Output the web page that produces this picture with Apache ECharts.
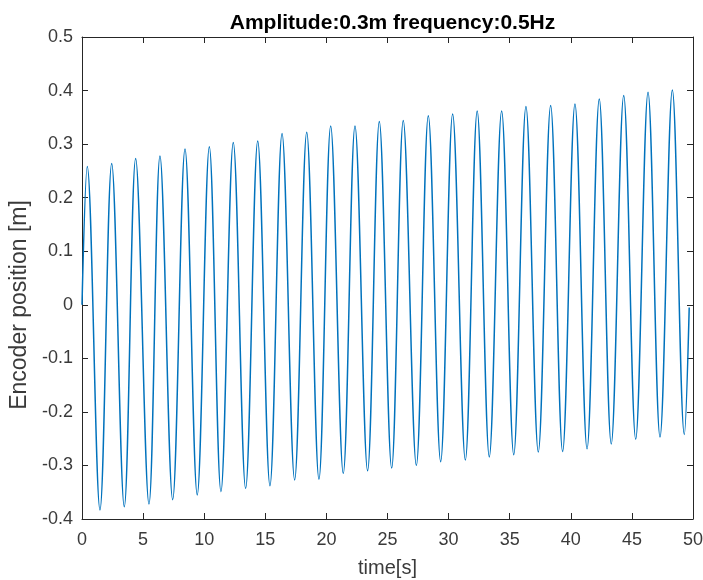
<!DOCTYPE html>
<html>
<head>
<meta charset="utf-8">
<script src="https://cdn.jsdelivr.net/npm/echarts@6/dist/echarts.min.js"></script>
<style>
  html, body { margin: 0; padding: 0; background: #fff; }
  #chart { width: 703px; height: 580px; }
</style>
</head>
<body>
<div id="chart"></div>
<script>
// peaks and troughs (time in s, position in m)
var peakTime = [0.43, 2.43, 4.39, 6.38, 8.43, 10.42, 12.38, 14.38, 16.37, 18.39, 20.35, 22.34,
  24.33, 26.29, 28.34, 30.33, 32.34, 34.34, 36.33, 38.35, 40.34, 42.33, 44.33, 46.32, 48.31];
var peakPos = [0.258, 0.264, 0.273, 0.278, 0.291, 0.295, 0.303, 0.306, 0.320, 0.322, 0.334, 0.334,
  0.342, 0.344, 0.353, 0.356, 0.362, 0.362, 0.370, 0.372, 0.375, 0.384, 0.391, 0.397, 0.401];
var troughTime = [1.47, 3.46, 5.48, 7.42, 9.43, 11.37, 13.39, 15.38, 17.40, 19.39, 21.38, 23.37,
  25.34, 27.36, 29.35, 31.37, 33.33, 35.33, 37.34, 39.33, 41.33, 43.31, 45.31, 47.30, 49.29];
var troughPos = [-0.383, -0.377, -0.372, -0.364, -0.355, -0.349, -0.343, -0.338, -0.327, -0.326, -0.315, -0.310,
  -0.305, -0.300, -0.293, -0.290, -0.284, -0.280, -0.275, -0.274, -0.269, -0.260, -0.251, -0.247, -0.242];
var startPoint = [0, 0];
var endPoint = [49.69, -0.005];

var xTicks = [0, 50, 5];      // min, max, step
var yTicks = [-0.4, 0.5, 0.1];

var axisColor = '#262626';
var lineColor = '#0072BD';

// build the trace: start, then peak / trough alternately, then end
var trace = [startPoint];
for (var i = 0; i < peakTime.length; i++) {
  trace.push([peakTime[i], peakPos[i]]);
  trace.push([troughTime[i], troughPos[i]]);
}
trace.push(endPoint);

var chart = echarts.init(document.getElementById('chart'), null, { renderer: 'canvas' });

function boxAxis(isX, pos, showLabel, ticks) {
  return {
    type: 'value',
    position: pos,
    min: ticks[0],
    max: ticks[1],
    interval: ticks[2],
    axisLine: { show: true, onZero: false, lineStyle: { color: axisColor, width: 1 } },
    axisTick: { show: true, inside: true, length: 6, lineStyle: { color: axisColor } },
    axisLabel: {
      show: showLabel,
      color: '#3a3a3a',
      fontFamily: 'Liberation Sans',
      fontSize: 18,
      margin: isX ? 12 : 9,
      showMinLabel: true,
      showMaxLabel: true
    },
    splitLine: { show: false }
  };
}

var xMain = boxAxis(true, 'bottom', true, xTicks);
xMain.name = 'time[s]';
xMain.nameLocation = 'middle';
xMain.nameGap = 39;
xMain.nameTextStyle = { color: '#3a3a3a', fontFamily: 'Liberation Sans', fontSize: 20 };

var yMain = boxAxis(false, 'left', true, yTicks);
yMain.name = 'Encoder position [m]';
yMain.nameLocation = 'middle';
yMain.nameGap = 48;
yMain.nameTextStyle = { color: '#3a3a3a', fontFamily: 'Liberation Sans', fontSize: 23, padding: [0, 54, 0, 0] };

var option = {
  backgroundColor: '#fff',
  animation: false,
  title: {
    text: 'Amplitude:0.3m frequency:0.5Hz',
    left: 387.5,
    textAlign: 'center',
    top: 8,
    textStyle: { color: '#000', fontFamily: 'Liberation Sans', fontWeight: 'bold', fontSize: 21 }
  },
  grid: { left: 82, right: 10, top: 37, bottom: 61, containLabel: false, outerBoundsMode: 'none' },
  xAxis: [xMain, boxAxis(true, 'top', false, xTicks)],
  yAxis: [yMain, boxAxis(false, 'right', false, yTicks)],
  series: [{
    type: 'line',
    data: trace,
    smooth: 0.36,
    showSymbol: false,
    symbol: 'none',
    clip: true,
    lineStyle: { color: lineColor, width: 1.5 }
  }]
};
chart.setOption(option);
</script>
</body>
</html>
